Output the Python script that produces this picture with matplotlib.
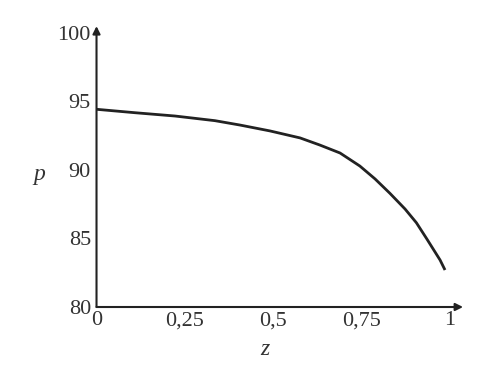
import matplotlib
matplotlib.use("Agg")
import matplotlib.pyplot as plt

z_vals = [0.0, 0.109, 0.222, 0.335, 0.406, 0.491, 0.576, 0.632, 0.689, 0.745,
          0.788, 0.830, 0.873, 0.905, 0.935, 0.972, 0.986]
p_vals = [94.43, 94.18, 93.94, 93.60, 93.28, 92.85, 92.34, 91.82, 91.24, 90.29,
          89.35, 88.30, 87.15, 86.15, 84.95, 83.43, 82.70]
x_ticks = [0, 0.25, 0.5, 0.75, 1]
x_tick_labels = ["0", "0,25", "0,5", "0,75", "1"]
y_ticks = [80, 85, 90, 95, 100]
y_tick_labels = ["80", "85", "90", "95", "100"]

plt.rcParams['font.family'] = ['Liberation Serif', 'DejaVu Serif']
col = '#222222'
tcol = '#333333'

fig = plt.figure(figsize=(4.98, 3.76), dpi=100)
ax = fig.add_axes([0.1938, 0.1835, 0.736, 0.747])
ax.plot(z_vals, p_vals, color=col, lw=2.0, solid_capstyle='butt', solid_joinstyle='round')
ax.set_xlim(0, 1.037)
ax.set_ylim(80, 100.5)
for s in ax.spines.values():
    s.set_visible(False)
ax.set_xticks(x_ticks)
ax.set_xticklabels(x_tick_labels)
ax.set_yticks(y_ticks)
ax.set_yticklabels(y_tick_labels)
ax.tick_params(axis='both', length=0, labelsize=16, colors=tcol)
ax.tick_params(axis='x', pad=3)
ax.tick_params(axis='y', pad=4)

ax.annotate('', xy=(1, 0), xytext=(0, 0), xycoords='axes fraction',
            arrowprops=dict(arrowstyle='-|>', lw=1.5, color=col, mutation_scale=11, shrinkA=0, shrinkB=0))
ax.annotate('', xy=(0, 1), xytext=(0, 0), xycoords='axes fraction',
            arrowprops=dict(arrowstyle='-|>', lw=1.5, color=col, mutation_scale=11, shrinkA=0, shrinkB=0))

ax.set_xlabel('z', fontsize=17, fontstyle='italic', color=tcol)
ax.xaxis.set_label_coords(0.46, -0.153)
ax.xaxis.label.set_va('center')
ax.set_ylabel('p', fontsize=17, fontstyle='italic', color=tcol, rotation=0)
ax.yaxis.set_label_coords(-0.155, 0.47)
ax.yaxis.label.set_va('center')
ax.yaxis.label.set_ha('center')

fig.savefig('out.png', dpi=100)
